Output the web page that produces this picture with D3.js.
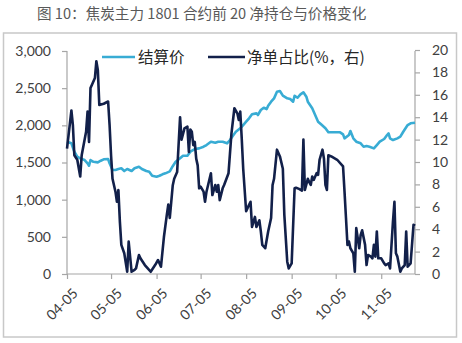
<!DOCTYPE html>
<html><head><meta charset="utf-8">
<script src="https://cdn.jsdelivr.net/npm/d3@7"></script>
<style>
html,body{margin:0;padding:0;background:#fff;}
svg{display:block;}
</style></head>
<body>
<script>
const title = "图 10：焦炭主力 1801 合约前 20 净持仓与价格变化";
const year = 2017;
const priceName = "结算价";
const netName = "净单占比(%，右)";
const xTickLabels = ["04-05","05-05","06-05","07-05","08-05","09-05","10-05","11-05"];
const leftTicks = [0,500,1000,1500,2000,2500,3000];
const rightTicks = [0,2,4,6,8,10,12,14,16,18,20];

const priceDates = ["04-05","04-08","04-10","04-12","04-14","04-17","04-19","04-20","04-21","04-23","04-26","04-28","04-30","05-03","05-04","05-06","05-08","05-10","05-12","05-14","05-16","05-19","05-21","05-24","05-26","05-29","05-31","06-02","06-05","06-07","06-09","06-11","06-14","06-16","06-18","06-21","06-23","06-26","06-28","07-01","07-04","07-07","07-09","07-12","07-15","07-17","07-20","07-23","07-25","07-27","07-29","08-01","08-03","08-05","08-07","08-09","08-12","08-13","08-15","08-17","08-19","08-20","08-22","08-24","08-26","08-28","08-30","09-02","09-04","09-06","09-07","09-09","09-11","09-13","09-15","09-16","09-19","09-21","09-23","09-25","09-28","09-30","10-08","10-10","10-11","10-14","10-15","10-17","10-19","10-22","10-24","10-26","10-28","10-31","11-02","11-04","11-07","11-09","11-10","11-11","11-13","11-16","11-18","11-20","11-23","11-25","11-28"];
const priceValues = [1780,1758,1645,1578,1556,1533,1489,1457,1533,1510,1502,1524,1543,1547,1489,1399,1399,1412,1422,1385,1412,1385,1422,1443,1412,1385,1376,1322,1309,1322,1341,1354,1380,1450,1510,1556,1591,1591,1645,1681,1690,1712,1735,1780,1766,1780,1780,1758,1802,1860,1914,1960,2004,2049,2094,2148,2161,2139,2206,2237,2219,2264,2318,2363,2452,2461,2400,2363,2354,2318,2398,2371,2417,2444,2385,2318,2229,2139,2049,2014,1960,1906,1906,1879,1825,1870,1923,1825,1780,1758,1712,1722,1712,1690,1735,1780,1816,1870,1892,1825,1802,1825,1847,1914,2004,2027,2035];

const netDates = ["04-05","04-08","04-09","04-10","04-12","04-14","04-15","04-18","04-19","04-20","04-21","04-22","04-24","04-25","04-26","04-27","04-30","05-03","05-04","05-05","05-06","05-08","05-09","05-10","05-11","05-12","05-14","05-16","05-17","05-19","05-21","05-22","05-24","05-25","05-28","05-30","06-01","06-04","06-06","06-08","06-10","06-12","06-13","06-14","06-16","06-17","06-19","06-21","06-22","06-24","06-26","06-27","06-28","06-29","06-30","07-01","07-02","07-03","07-04","07-05","07-07","07-08","07-09","07-12","07-13","07-15","07-16","07-17","07-18","07-20","07-21","07-24","07-26","07-28","07-30","07-31","08-01","08-02","08-03","08-05","08-06","08-08","08-09","08-11","08-12","08-14","08-15","08-16","08-18","08-20","08-22","08-23","08-24","08-26","08-28","08-30","08-31","09-02","09-03","09-05","09-07","09-08","09-10","09-12","09-13","09-14","09-16","09-17","09-18","09-19","09-20","09-22","09-23","09-24","09-26","09-27","09-28","09-29","09-30","10-02","10-06","10-10","10-11","10-12","10-13","10-14","10-15","10-17","10-18","10-19","10-21","10-22","10-23","10-25","10-26","10-27","10-29","10-30","10-31","11-01","11-02","11-03","11-05","11-07","11-08","11-10","11-11","11-13","11-14","11-15","11-16","11-18","11-19","11-21","11-22","11-23","11-25","11-27","11-28"];
const netValues = [11.2,14.6,13.3,10.6,10.2,8.7,10.6,12.7,14.5,11.8,16.6,16.9,17.5,19.0,18.2,15.1,15.2,15.4,13.3,10.6,8.5,7.35,6.45,7.5,4.7,2.6,1.85,0.2,2.9,0.2,0.36,0.5,1.7,1.4,0.8,0.5,0.2,0.8,1.25,0.65,3.3,5.3,6.2,5.0,7.9,8.5,9.1,14.0,12.0,13.0,13.15,10.9,12.9,12.7,11.5,11.8,10.3,9.7,7.65,7.8,7.35,6.45,7.35,9.0,7.05,7.95,7.35,7.95,6.6,7.65,7.95,9.0,12.55,14.8,14.35,13.75,14.5,12.1,9.4,5.6,5.9,6.45,4.2,5.1,4.2,4.8,3.8,2.6,2.3,3.8,5.0,7.95,8.5,11.1,10.5,9.4,5.3,1.1,0.5,0.95,7.65,7.7,7.6,7.45,12.0,7.5,8.5,8.2,7.95,8.7,8.4,9.0,8.85,10.2,11.1,10.3,7.95,7.5,10.6,10.5,10.2,9.6,7.35,5.0,2.6,2.9,2.3,1.85,0.2,4.1,2.3,3.5,3.9,2.6,0.8,1.7,1.55,1.4,2.6,1.55,3.8,1.4,1.4,0.95,0.8,0.95,0.5,4.7,6.45,1.85,1.55,0.2,0.5,0.8,3.8,0.65,0.95,4.4,4.3];

const W = 462, H = 343;
const parse = s => d3.timeParse("%Y-%m-%d")(year + "-" + s);
const svg = d3.select("body").append("svg").attr("width", W).attr("height", H);
const FONT = "Lato, 'Open Sans', sans-serif";
const CJK = "'Noto Sans CJK SC', sans-serif";

svg.append("text").attr("x", 37).attr("y", 19)
  .attr("font-family", CJK).attr("font-size", 14.6).attr("fill", "#595959")
  .text(title);

svg.append("rect").attr("x", 3.5).attr("y", 33).attr("width", 453).attr("height", 304)
  .attr("fill", "#fff").attr("stroke", "#c8c8c8").attr("stroke-width", 1.5);

const x0 = 67, x1 = 415, yTop = 51, yBot = 274;
const x = d3.scaleTime().domain([parse("04-05"), parse("11-28")]).range([x0, x1]);
const yL = d3.scaleLinear().domain([0, 3000]).range([yBot, yTop]);
const yR = d3.scaleLinear().domain([0, 20]).range([yBot, yTop - 1]);

const axisColor = "#a6a6a6";
// left axis
const gL = svg.append("g").attr("transform", `translate(${x0},0)`)
  .call(d3.axisLeft(yL).tickValues(leftTicks).tickFormat(d3.format(",")).tickSize(5).tickPadding(11));
// right axis
const gR = svg.append("g").attr("transform", `translate(${x1},0)`)
  .call(d3.axisRight(yR).tickValues(rightTicks).tickSize(5).tickPadding(12));
// bottom axis
const gB = svg.append("g").attr("transform", `translate(0,${yBot})`)
  .call(d3.axisBottom(x).tickValues(xTickLabels.map(parse)).tickFormat(d3.timeFormat("%m-%d")).tickSize(5).tickPadding(4));

[gL, gR, gB].forEach(g => {
  g.select(".domain").attr("stroke", axisColor).attr("stroke-width", 1.2);
  g.selectAll(".tick line").attr("stroke", axisColor).attr("stroke-width", 1.2);
  g.selectAll("text").attr("font-family", FONT).attr("font-size", 14).attr("fill", "#404040");
});
gL.select(".domain").attr("d", `M-0,${yBot}V${yTop}`);
gR.select(".domain").attr("d", `M0,${yBot}V${yTop}`);
gB.select(".domain").attr("d", `M${x0},0H${x1}`);
gB.selectAll(".tick text")
  .attr("text-anchor", "end")
  .attr("dy", 0)
  .attr("transform", "translate(5,14) rotate(-45)");

const priceColor = "#38acd4", netColor = "#12204a";
const pData = priceDates.map((d, i) => [parse(d), priceValues[i]]);
const nData = netDates.map((d, i) => [parse(d), netValues[i]]);

svg.append("path").datum(pData)
  .attr("d", d3.line().x(d => x(d[0])).y(d => yL(d[1])))
  .attr("fill", "none").attr("stroke", priceColor).attr("stroke-width", 2.6).attr("stroke-linejoin", "round");
svg.append("path").datum(nData)
  .attr("d", d3.line().x(d => x(d[0])).y(d => yR(d[1])))
  .attr("fill", "none").attr("stroke", netColor).attr("stroke-width", 2.6).attr("stroke-linejoin", "round");

// legend
const leg = svg.append("g");
leg.append("line").attr("x1", 102).attr("x2", 135).attr("y1", 57).attr("y2", 57)
  .attr("stroke", priceColor).attr("stroke-width", 2.6);
leg.append("text").attr("x", 138).attr("y", 62.5).attr("font-family", CJK).attr("font-size", 15.5)
  .attr("fill", "#262626").text(priceName);
leg.append("line").attr("x1", 208).attr("x2", 245).attr("y1", 57).attr("y2", 57)
  .attr("stroke", netColor).attr("stroke-width", 2.6);
leg.append("text").attr("x", 247).attr("y", 62.5).attr("font-family", CJK).attr("font-size", 15.5)
  .attr("fill", "#262626").text(netName);
</script>
</body></html>
